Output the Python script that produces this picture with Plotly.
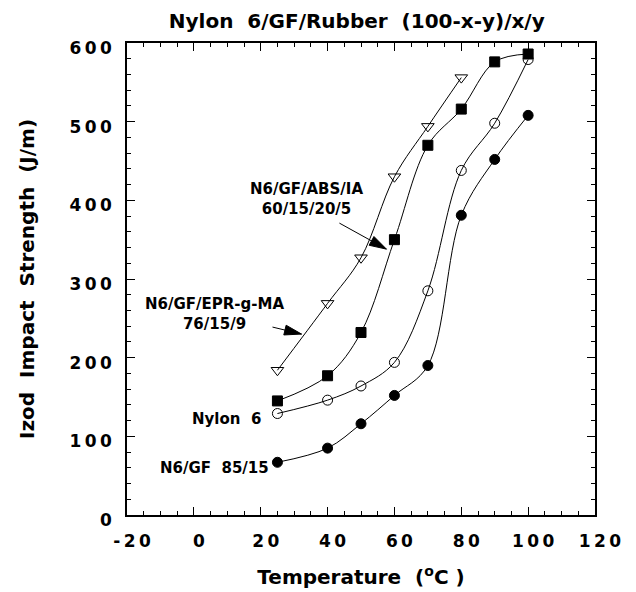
import math
import plotly.graph_objects as go

# ---- data ----
temp_epr = [25, 40, 50, 60, 70, 80]
izod_epr = [184, 269, 327, 430, 494, 556]

temp_abs = [25, 40, 50, 60, 70, 80, 90, 100]
izod_abs = [145, 177, 232, 350, 470, 516, 576, 586]

temp_n6 = [25, 40, 50, 60, 70, 80, 90, 100]
izod_n6 = [129, 146, 164, 194, 285, 438, 498, 579]

temp_gf = [25, 40, 50, 60, 70, 80, 90, 100]
izod_gf = [67, 85, 116, 152, 190, 381, 452, 508]

x_tick_vals = [-20, 0, 20, 40, 60, 80, 100, 120]
x_tick_labels = ["-20", "0", "20", "40", "60", "80", "100", "120"]
y_tick_vals = [0, 100, 200, 300, 400, 500, 600]
y_tick_labels = ["0", "100", "200", "300", "400", "500", "600"]

TSP = "\u2009"


def spaced(s):
    return TSP.join(list(s))


FONT = "DejaVu Sans"

fig = go.Figure()

series = [
    (temp_epr, izod_epr, "N6/GF/EPR-g-MA 76/15/9", "triangle-down-open", 11),
    (temp_abs, izod_abs, "N6/GF/ABS/IA 60/15/20/5", "square", 10),
    (temp_n6, izod_n6, "Nylon 6", "circle-open", 10),
    (temp_gf, izod_gf, "N6/GF 85/15", "circle", 10),
]
for xs, ys, name, sym, sz in series:
    fig.add_trace(go.Scatter(
        x=xs, y=ys, name=name, mode="lines+markers",
        line=dict(color="black", width=1, shape="spline", smoothing=1.0),
        marker=dict(symbol=sym, size=sz, color="black",
                    line=dict(color="black", width=1)),
        showlegend=False,
    ))

lab_font = dict(family=FONT, size=15, color="black", weight="bold")

fig.add_annotation(x=33.7, y=402, xref="x", yref="y", showarrow=False,
                   text="N6/GF/ABS/IA<br>60/15/20/5", font=lab_font,
                   align="center")
fig.add_annotation(x=6.3, y=255, xref="x", yref="y", showarrow=False,
                   text="N6/GF/EPR-g-MA<br>76/15/9", font=lab_font,
                   align="center")
fig.add_annotation(x=9.9, y=122, xref="x", yref="y", showarrow=False,
                   text="Nylon  6", font=lab_font)
fig.add_annotation(x=6.1, y=60, xref="x", yref="y", showarrow=False,
                   text="N6/GF  85/15", font=lab_font)


def add_arrow(hx, hy, dx, dy, head_len=17, head_half=5):
    """Arrow whose tip is at data point (hx, hy); tail offset (dx, dy) in
    screen pixels (dy positive = down)."""
    fig.add_shape(type="line", xref="x", yref="y",
                  xsizemode="pixel", ysizemode="pixel",
                  xanchor=hx, yanchor=hy,
                  x0=dx, y0=-dy, x1=0, y1=0,
                  line=dict(color="black", width=1))
    L = math.hypot(dx, dy)
    ux, uy = -dx / L, -dy / L          # tail -> head, screen coords
    nx, ny = -uy, ux
    bx, by = -head_len * ux, -head_len * uy
    p1 = (bx + head_half * nx, by + head_half * ny)
    p2 = (bx - head_half * nx, by - head_half * ny)
    path = "M 0,0 L {:.2f},{:.2f} L {:.2f},{:.2f} Z".format(
        p1[0], -p1[1], p2[0], -p2[1])
    fig.add_shape(type="path", xref="x", yref="y",
                  xsizemode="pixel", ysizemode="pixel",
                  xanchor=hx, yanchor=hy, path=path,
                  fillcolor="black", line=dict(color="black", width=1))


add_arrow(57.6, 338, -47, -26)
add_arrow(32.2, 230, -29, -7)

tick_font = dict(family=FONT, size=17, color="black", weight="bold")

W, H = 628, 584
fig.update_layout(
    width=W, height=H,
    margin=dict(l=119, r=41, t=35, b=77),
    paper_bgcolor="white", plot_bgcolor="white",
    title=dict(text="Nylon  6/GF/Rubber  (100-x-y)/x/y",
               x=0.491, xref="paper", y=1 - 13 / H, yref="container",
               xanchor="center", yanchor="middle",
               font=dict(family=FONT, size=20, color="black",
                         weight="bold")),
    xaxis=dict(
        range=[-20, 120], tickvals=x_tick_vals,
        ticktext=[spaced(t) for t in x_tick_labels],
        ticks="inside", ticklen=8, tickwidth=1.2, tickcolor="black",
        showline=True, linecolor="black", linewidth=1.5, mirror="ticks",
        showgrid=False, zeroline=False, tickfont=tick_font,
        ticklabelstandoff=10, ticklabelshift=5, automargin=False,
        minor=dict(dtick=5, tick0=0, ticks="inside", ticklen=4,
                   tickwidth=1, tickcolor="black", showgrid=False),
        title=dict(text="Temperature  (<sup>o</sup>C )", standoff=20,
                   font=dict(family=FONT, size=20, color="black",
                             weight="bold")),
    ),
    yaxis=dict(
        range=[0, 600], tickvals=y_tick_vals,
        ticktext=[spaced(t) for t in y_tick_labels],
        ticks="inside", ticklen=8, tickwidth=1.2, tickcolor="black",
        showline=True, linecolor="black", linewidth=1.5, mirror="ticks",
        showgrid=False, zeroline=False, tickfont=tick_font,
        ticklabelstandoff=10, ticklabelshift=5, automargin=False,
        minor=dict(dtick=20, tick0=0, ticks="inside", ticklen=4,
                   tickwidth=1, tickcolor="black", showgrid=False),
        title=dict(text="Izod  Impact  Strength  (J/m)", standoff=30,
                   font=dict(family=FONT, size=20, color="black",
                             weight="bold")),
    ),
)

fig.write_html("out.html")
